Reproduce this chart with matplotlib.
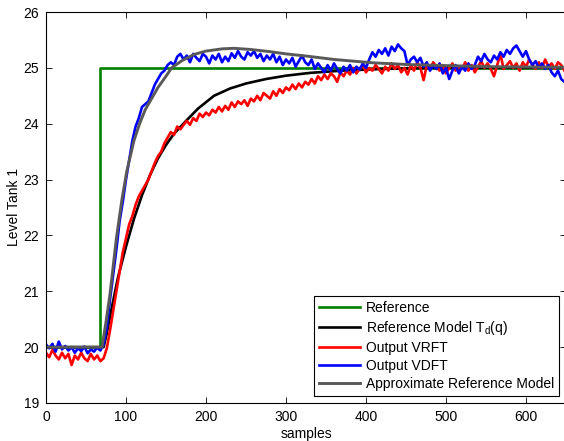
import numpy as np
import matplotlib
matplotlib.use('Agg')
import matplotlib.pyplot as plt

plt.rcParams['font.family'] = ['Liberation Sans', 'DejaVu Sans']
plt.rcParams['mathtext.fontset'] = 'custom'
plt.rcParams['mathtext.rm'] = 'Liberation Sans'
plt.rcParams['mathtext.it'] = 'Liberation Sans'

# reference step
ref_t = [0, 68, 68, 650]
ref_y = [20.0, 20.0, 25.0, 25.0]

# reference model Td(q), read at knots
td_t = [0, 72, 76, 80, 90, 100, 110, 120, 130, 140, 150, 160, 175, 190, 210,
        230, 250, 275, 300, 330, 370, 420, 480, 650]
td_y = [20.0, 20.0, 20.25, 20.55, 21.25, 21.8, 22.3, 22.72, 23.08, 23.38, 23.62,
        23.82, 24.05, 24.27, 24.5, 24.63, 24.72, 24.8, 24.86, 24.91, 24.95,
        24.98, 25.0, 25.0]

# approximate reference model
ap_t = [0, 70, 75, 80, 88, 95, 101, 110, 117, 124, 132, 140, 150, 157, 170, 185,
        200, 220, 235, 255, 280, 300, 326, 360, 409, 451, 500, 560, 650]
ap_y = [20.0, 20.0, 20.45, 20.95, 21.95, 22.65, 23.15, 23.7, 24.0, 24.25, 24.45,
        24.65, 24.85, 25.0, 25.13, 25.24, 25.3, 25.34, 25.35, 25.33, 25.29, 25.25,
        25.21, 25.15, 25.09, 25.06, 25.04, 25.02, 25.01]

# measured outputs, every 4 samples
t_out = np.arange(0, 649, 4)

vrft = [19.9, 19.82, 19.95, 19.85, 19.78, 19.9, 19.8, 19.88, 19.68, 19.85,
        19.78, 19.9, 19.8, 19.75, 19.88, 19.78, 19.85, 19.75, 19.8, 19.98,
        20.3, 20.65, 21.0, 21.35, 21.7, 21.95, 22.2, 22.35, 22.55, 22.7,
        22.8, 22.9, 23.0, 23.15, 23.3, 23.42, 23.5, 23.65, 23.75, 23.85,
        23.8, 23.95, 23.9, 23.98, 24.05, 23.98, 24.1, 24.05, 24.18, 24.12,
        24.2, 24.15, 24.25, 24.2, 24.3, 24.22, 24.32, 24.25, 24.38, 24.3,
        24.4, 24.35, 24.42, 24.32, 24.45, 24.4, 24.5, 24.42, 24.55, 24.5,
        24.45, 24.58, 24.5, 24.62, 24.55, 24.65, 24.6, 24.7, 24.62, 24.72,
        24.65, 24.75, 24.7, 24.8, 24.72, 24.85, 24.78, 24.88, 24.8, 24.9,
        24.85, 24.75, 24.92, 24.85, 24.95, 24.88, 25.0, 24.9, 24.98, 25.05,
        24.92, 25.0, 24.95, 25.05, 24.98, 24.9, 25.02, 24.95, 25.08, 24.98,
        25.05, 24.92, 25.0, 24.88, 25.05, 24.95, 25.1, 25.0, 24.78, 25.05,
        24.98, 25.1, 25.02, 24.95, 25.05, 24.9, 25.0, 25.08, 24.95, 25.02,
        24.98, 25.1, 24.95, 25.05, 24.92, 25.02, 25.12, 25.0, 25.08, 24.98,
        24.85, 25.05, 25.25, 24.98, 25.05, 25.12, 25.0, 25.08, 24.95, 25.1,
        25.02, 25.15, 25.05, 24.98, 25.1, 25.0, 25.15, 25.02, 25.08, 24.98,
        25.1, 25.05, 24.95]

vdft = [20.05, 19.98, 20.06, 19.92, 20.1, 19.96, 20.02, 19.94, 20.0, 19.9,
        19.98, 19.93, 20.01, 19.89, 19.96, 19.92, 19.99, 19.94, 20.05, 20.35,
        20.85, 21.3, 21.75, 22.25, 22.6, 23.0, 23.35, 23.7, 23.95, 24.1,
        24.3, 24.35, 24.4, 24.55, 24.7, 24.8, 24.9, 24.95, 25.05, 25.1,
        25.05, 25.2, 25.25, 25.15, 25.22, 25.1, 25.25, 25.18, 25.12, 25.25,
        25.2, 25.08, 25.22, 25.15, 25.25, 25.1, 25.2, 25.12, 25.26, 25.18,
        25.3, 25.2, 25.15, 25.28, 25.22, 25.3, 25.18, 25.25, 25.12, 25.22,
        25.15, 25.25, 25.1, 25.2, 25.05, 25.15, 25.08, 25.18, 25.02, 25.12,
        25.22, 25.1, 25.05, 25.15, 24.98, 25.08, 25.0, 24.92, 25.05, 24.95,
        25.08, 24.98, 24.9, 25.02, 24.95, 25.05, 24.92, 25.02, 24.97, 25.08,
        25.0, 25.15, 25.28, 25.2, 25.32, 25.25, 25.35, 25.22, 25.38, 25.3,
        25.42, 25.35, 25.3, 25.05, 25.15, 25.2, 25.1, 25.18, 25.02, 25.1,
        24.95, 25.05, 24.98, 25.08, 24.9, 25.0, 24.8, 24.95, 25.05, 24.9,
        25.02, 24.95, 25.08, 24.98, 25.05, 25.2, 25.12, 25.25, 25.15, 25.1,
        25.22, 25.15, 25.28, 25.2, 25.32, 25.25, 25.35, 25.4, 25.3, 25.2,
        25.3, 25.15, 25.05, 25.12, 25.0, 25.08, 24.98, 25.05, 24.92, 24.85,
        24.95, 24.8, 24.75]

fig = plt.figure(figsize=(5.64, 4.41), dpi=100)
ax = fig.add_axes([46 / 564, 38 / 441, 520 / 564, 391 / 441])

ax.plot(ref_t, ref_y, color=(0, 0.5, 0), lw=1.9, label='Reference')
ax.plot(td_t, td_y, color='black', lw=1.9, label='Reference Model T$_d$(q)')
ax.plot(t_out, vrft, color='red', lw=1.9, label='Output VRFT')
ax.plot(t_out, vdft, color='blue', lw=1.9, label='Output VDFT')
ax.plot(ap_t, ap_y, color=(0.35, 0.35, 0.35), lw=2.1, label='Approximate Reference Model')

ax.set_xlim(0, 650)
ax.set_ylim(19, 26)
ax.set_xticks([0, 100, 200, 300, 400, 500, 600])
ax.set_yticks([19, 20, 21, 22, 23, 24, 25, 26])
ax.tick_params(direction='in', top=True, right=True, labelsize=10, length=4,
               width=0.6, pad=5)
for s in ax.spines.values():
    s.set_linewidth(0.8)

ax.set_xlabel('samples', fontsize=10, labelpad=2)
ax.set_ylabel('Level Tank 1', fontsize=10, labelpad=2)

leg = ax.legend(loc='lower right', fontsize=10, frameon=True, fancybox=False,
                edgecolor='black', framealpha=1, handlelength=3.0,
                handletextpad=0.4, labelspacing=0.3, borderpad=0.35,
                borderaxespad=0.5)
leg.get_frame().set_linewidth(0.8)

fig.savefig('out.png', dpi=100)
